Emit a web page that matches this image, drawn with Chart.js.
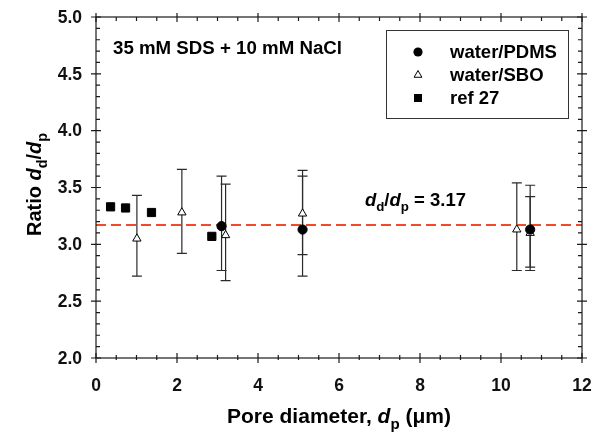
<!DOCTYPE html>
<html>
<head>
<meta charset="utf-8">
<script src="https://cdn.jsdelivr.net/npm/chart.js@4.4.1/dist/chart.umd.min.js"></script>
<style>
html,body{margin:0;padding:0;background:#fff;}
canvas{display:block;}
</style>
</head>
<body>
<canvas id="c" width="594" height="437"></canvas>
<script>
// ---- data ----
const xTickValues = [0, 2, 4, 6, 8, 10, 12];
const yTickValues = [2.0, 2.5, 3.0, 3.5, 4.0, 4.5, 5.0];

const pdmsX    = [3.10, 5.10, 10.72];
const pdmsY    = [3.16, 3.13, 3.13];
const pdmsLow  = [2.77, 2.72, 2.77];
const pdmsHigh = [3.60, 3.60, 3.52];

const sboX    = [1.01, 2.12, 3.20, 5.10, 10.39, 10.72];
const sboY    = [3.05, 3.28, 3.08, 3.27, 3.13, 3.10];
const sboLow  = [2.72, 2.92, 2.68, 2.91, 2.77, 2.80];
const sboHigh = [3.43, 3.66, 3.53, 3.65, 3.54, 3.42];

const refX = [0.36, 0.73, 1.37, 2.86];
const refY = [3.33, 3.32, 3.28, 3.07];

const ratioValue = 3.17;
const ratioLineX = [0, 12];

const seriesNames = ['water/PDMS', 'water/SBO', 'ref 27'];
const annotationText = '35 mM SDS + 10 mM NaCl';

// ---- helpers ----
const FAM = '"Liberation Sans", Arial, Helvetica, sans-serif';
const toPts = (xs, ys) => xs.map((x, i) => ({x: x, y: ys[i]}));

function richWidth(ctx, segs, size) {
  let w = 0;
  segs.forEach(s => {
    const sz = s.sub ? size * 0.72 : size;
    ctx.font = (s.italic ? 'italic ' : '') + 'bold ' + sz + 'px ' + FAM;
    w += ctx.measureText(s.t).width;
  });
  return w;
}
function drawRich(ctx, segs, x, y, size) {
  let cx = x;
  ctx.textBaseline = 'alphabetic';
  ctx.textAlign = 'left';
  segs.forEach(s => {
    const sz = s.sub ? size * 0.72 : size;
    ctx.font = (s.italic ? 'italic ' : '') + 'bold ' + sz + 'px ' + FAM;
    ctx.fillText(s.t, cx, y + (s.sub ? size * 0.28 : 0));
    cx += ctx.measureText(s.t).width;
  });
}

function drawMarker(ctx, kind, x, y) {
  ctx.save();
  ctx.lineWidth = 1;
  ctx.strokeStyle = '#000';
  ctx.fillStyle = '#000';
  ctx.beginPath();
  if (kind === 'circle') {
    ctx.arc(x, y, 4.6, 0, Math.PI * 2);
    ctx.fill();
  } else if (kind === 'triangle') {
    const r = 4.5;
    ctx.moveTo(x, y - r);
    ctx.lineTo(x + r * 0.866, y + r * 0.5);
    ctx.lineTo(x - r * 0.866, y + r * 0.5);
    ctx.closePath();
    ctx.fillStyle = '#fff';
    ctx.fill();
    ctx.stroke();
  } else {
    ctx.rect(x - 4, y - 4, 8, 8);
    ctx.fill();
  }
  ctx.restore();
}

// ---- plugins ----
const errorBars = {
  id: 'errorBars',
  beforeDatasetsDraw(chart) {
    const ctx = chart.ctx, xs = chart.scales.x, ys = chart.scales.y;
    ctx.save();
    ctx.strokeStyle = '#2a2a2a';
    ctx.lineWidth = 1.2;
    const draw = (X, L, H) => {
      X.forEach((xv, i) => {
        const px = xs.getPixelForValue(xv);
        const pl = ys.getPixelForValue(L[i]);
        const ph = ys.getPixelForValue(H[i]);
        ctx.beginPath();
        ctx.moveTo(px, pl); ctx.lineTo(px, ph);
        ctx.moveTo(px - 5, pl); ctx.lineTo(px + 5, pl);
        ctx.moveTo(px - 5, ph); ctx.lineTo(px + 5, ph);
        ctx.stroke();
      });
    };
    draw(sboX, sboLow, sboHigh);
    draw(pdmsX, pdmsLow, pdmsHigh);
    ctx.restore();
  }
};

const frame = {
  id: 'frame',
  afterDatasetsDraw(chart) {
    const ctx = chart.ctx, a = chart.chartArea, xs = chart.scales.x, ys = chart.scales.y;
    ctx.save();
    ctx.strokeStyle = '#1a1a1a';
    ctx.lineWidth = 1.2;
    ctx.strokeRect(a.left, a.top, a.right - a.left, a.bottom - a.top);
    ctx.beginPath();
    // x ticks
    for (let v = 0; v <= 12.0001; v += 0.5) {
      const px = xs.getPixelForValue(v);
      const major = Math.abs(v / 2 - Math.round(v / 2)) < 1e-6;
      if (major) {
        ctx.moveTo(px, a.bottom + 5); ctx.lineTo(px, a.bottom - 5);
        ctx.moveTo(px, a.top - 4); ctx.lineTo(px, a.top + 5);
      } else {
        ctx.moveTo(px, a.bottom + 2); ctx.lineTo(px, a.bottom - 3);
        ctx.moveTo(px, a.top); ctx.lineTo(px, a.top + 4);
      }
    }
    // y ticks
    for (let k = 0; k <= 30; k++) {
      const v = 2 + k * 0.1;
      const py = ys.getPixelForValue(v);
      const major = k % 5 === 0;
      if (major) {
        ctx.moveTo(a.left - 5, py); ctx.lineTo(a.left + 5, py);
        ctx.moveTo(a.right - 5, py); ctx.lineTo(a.right + 5, py);
      } else {
        ctx.moveTo(a.left, py); ctx.lineTo(a.left + 4, py);
        ctx.moveTo(a.right - 4, py); ctx.lineTo(a.right, py);
      }
    }
    ctx.stroke();

    // tick labels
    ctx.fillStyle = '#111';
    ctx.font = 'bold 17.5px ' + FAM;
    ctx.textBaseline = 'middle';
    ctx.textAlign = 'center';
    xTickValues.forEach(v => ctx.fillText(String(v), xs.getPixelForValue(v), a.bottom + 28));
    ctx.textAlign = 'right';
    yTickValues.forEach(v => ctx.fillText(v.toFixed(1), a.left - 14, ys.getPixelForValue(v) + 1));

    // legend
    ctx.fillStyle = '#000';
    ctx.lineWidth = 1;
    ctx.strokeStyle = '#333';
    ctx.strokeRect(386.5, 30.5, 182, 88);
    const kinds = ['circle', 'triangle', 'rect'];
    const rows = [52, 75, 98];
    ctx.font = 'bold 18.5px ' + FAM;
    ctx.textBaseline = 'middle';
    ctx.textAlign = 'left';
    seriesNames.forEach((n, i) => {
      drawMarker(ctx, kinds[i], 418, rows[i]);
      ctx.fillStyle = '#000';
      ctx.fillText(n, 450, rows[i] + 1);
    });

    // annotations
    ctx.fillStyle = '#000';
    drawRich(ctx, [{t: annotationText}], 113, 54, 18.7);
    drawRich(ctx, [
      {t: 'd', italic: true}, {t: 'd', sub: true}, {t: '/'},
      {t: 'd', italic: true}, {t: 'p', sub: true}, {t: ' = ' + ratioValue.toFixed(2)}
    ], xs.getPixelForValue(6.64), ys.getPixelForValue(3.34), 18.5);

    // axis titles
    const xt = [{t: 'Pore diameter, '}, {t: 'd', italic: true}, {t: 'p', sub: true}, {t: ' (\u03bcm)'}];
    const wx = richWidth(ctx, xt, 21);
    drawRich(ctx, xt, (a.left + a.right) / 2 - wx / 2, 423, 21);

    const yt = [{t: 'Ratio '}, {t: 'd', italic: true}, {t: 'd', sub: true}, {t: '/'}, {t: 'd', italic: true}, {t: 'p', sub: true}];
    const wy = richWidth(ctx, yt, 20);
    ctx.translate(41, (a.top + a.bottom) / 2 - 3);
    ctx.rotate(-Math.PI / 2);
    drawRich(ctx, yt, -wy / 2, 0, 20);
    ctx.restore();
  }
};

// ---- chart ----
new Chart(document.getElementById('c'), {
  type: 'scatter',
  data: {
    datasets: [
      {
        label: seriesNames[0],
        data: toPts(pdmsX, pdmsY),
        pointStyle: 'circle', pointRadius: 4.6,
        backgroundColor: '#000', borderColor: '#000', borderWidth: 1,
        order: 1
      },
      {
        label: seriesNames[1],
        data: toPts(sboX, sboY),
        pointStyle: 'triangle', pointRadius: 4.8,
        backgroundColor: '#fff', borderColor: '#000', borderWidth: 1,
        order: 2
      },
      {
        label: seriesNames[2],
        data: toPts(refX, refY),
        pointStyle: 'rect', pointRadius: 5.8,
        backgroundColor: '#000', borderColor: '#000', borderWidth: 1,
        order: 3
      },
      {
        type: 'line',
        label: 'fit',
        data: ratioLineX.map(x => ({x: x, y: ratioValue})),
        borderColor: '#f04a2a', borderWidth: 1.8, borderDash: [10, 5],
        pointRadius: 0, fill: false,
        order: 10
      }
    ]
  },
  options: {
    responsive: false,
    animation: false,
    devicePixelRatio: 1,
    layout: {padding: {left: 0, top: 17, right: 12, bottom: 0}},
    plugins: {legend: {display: false}, tooltip: {enabled: false}},
    scales: {
      x: {
        type: 'linear', min: 0, max: 12,
        afterBuildTicks: s => { s.ticks = xTickValues.map(v => ({value: v})); },
        afterFit: s => { s.height = 79; },
        grid: {display: false}, border: {display: false},
        ticks: {display: false}
      },
      y: {
        type: 'linear', min: 2, max: 5,
        afterBuildTicks: s => { s.ticks = yTickValues.map(v => ({value: v})); },
        afterFit: s => { s.width = 96; },
        grid: {display: false}, border: {display: false},
        ticks: {display: false}
      }
    }
  },
  plugins: [errorBars, frame]
});
</script>
</body>
</html>
